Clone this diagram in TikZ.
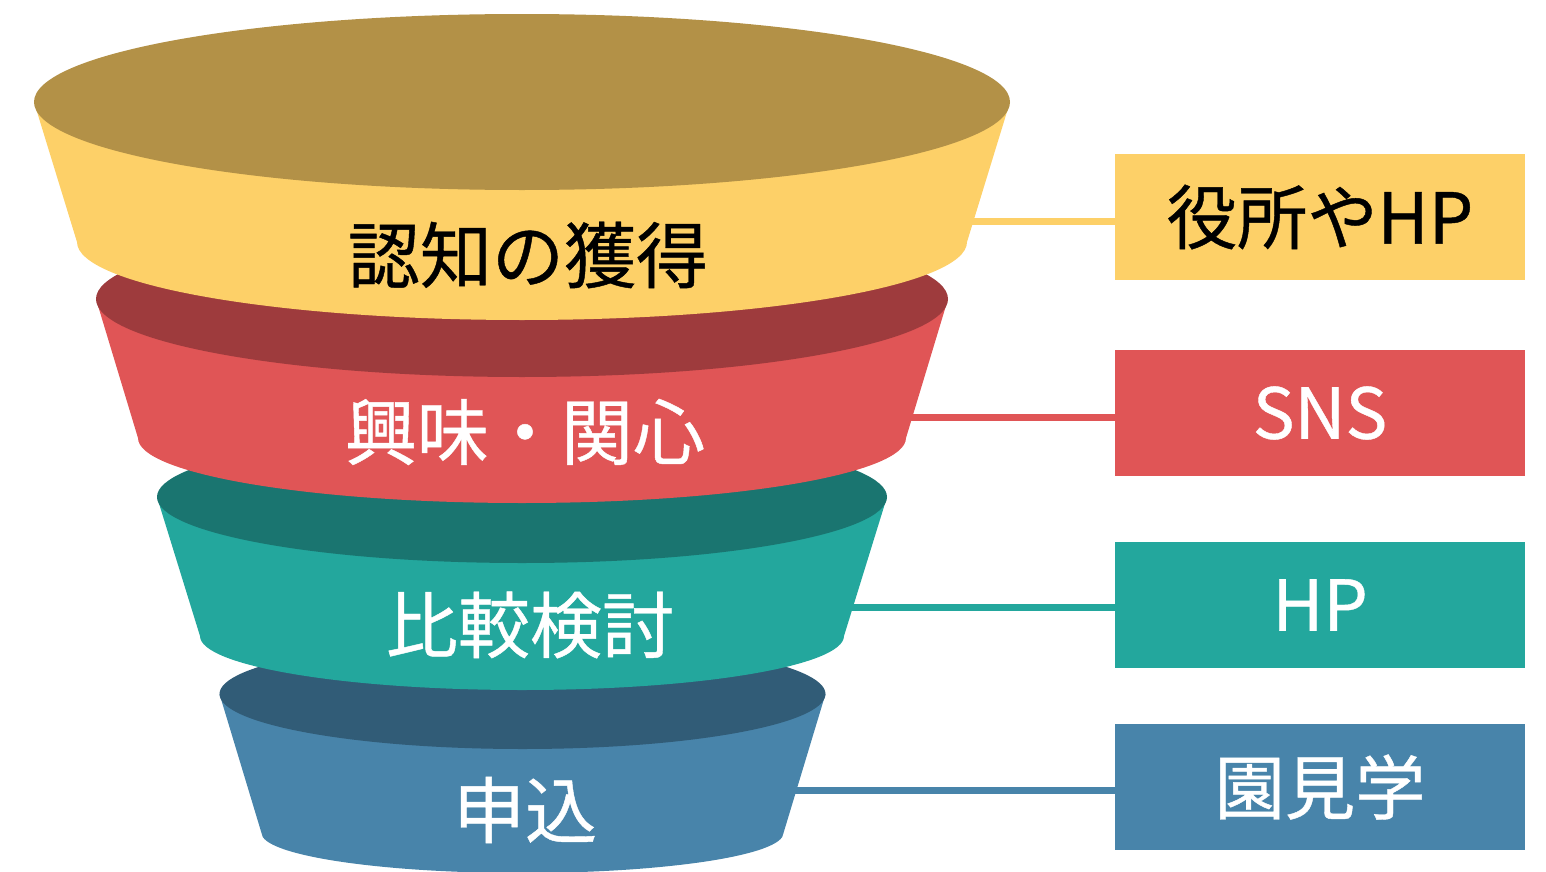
\documentclass[tikz,border=0pt]{standalone}
\usepackage{fontspec}
\setmainfont{Noto Sans CJK JP}[FakeBold=0.6]
\definecolor{yelbody}{HTML}{FDD068}
\definecolor{yeltop}{HTML}{B39147}
\definecolor{redbody}{HTML}{E05556}
\definecolor{redtop}{HTML}{9E3B3D}
\definecolor{tealbody}{HTML}{23A79D}
\definecolor{tealtop}{HTML}{1A7570}
\definecolor{bluebody}{HTML}{4884AA}
\definecolor{bluetop}{HTML}{315C77}
\newcommand{\layer}[9]{%
  \fill[#8] (#1-#3,-#2) -- (#1-#6,-#5) arc[start angle=180,end angle=360,x radius=#6,y radius=#7] -- (#1+#3,-#2) -- cycle;
  \fill[#9] (#1,-#2) ellipse [x radius=#3,y radius=#4];}
\begin{document}
\begin{tikzpicture}[x=0.02cm,y=0.02cm,
    stagetext/.style={font=\fontsize{41}{41}\selectfont},
    srcbox/.style={minimum width=8.2cm,minimum height=2.52cm,inner sep=0pt,font=\fontsize{40}{40}\selectfont},
    link/.style={line width=0.14cm}]
  \useasboundingbox (0,0) rectangle (1546,-872);
  \node[srcbox,fill=yelbody] (b1) at (1320,-217) {役所やHP};
  \node[srcbox,fill=redbody,text=white] (b2) at (1320,-413) {SNS};
  \node[srcbox,fill=tealbody,text=white] (b3) at (1320,-605) {HP};
  \node[srcbox,fill=bluebody,text=white] (b4) at (1320,-787) {園見学};
  \coordinate (c1) at (940,-221);
  \coordinate (c2) at (880,-417);
  \coordinate (c3) at (820,-607);
  \coordinate (c4) at (760,-790);
  \draw[link,yelbody] (c1) -- (c1 -| b1.west);
  \draw[link,redbody] (c2) -- (c2 -| b2.west);
  \draw[link,tealbody] (c3) -- (c3 -| b3.west);
  \draw[link,bluebody] (c4) -- (c4 -| b4.west);
  \layer{522.5}{694}{303}{55}{833}{261}{40}{bluebody}{bluetop}
  \layer{522}{497}{365}{66}{636}{322}{54}{tealbody}{tealtop}
  \layer{522}{299}{426}{78}{438}{384}{65}{redbody}{redtop}
  \layer{522}{102}{488}{88}{242}{445}{78}{yelbody}{yeltop}
  \node[stagetext] (s1) at (528,-255) {認知の獲得};
  \node[stagetext,text=white] (s2) at (525,-432) {興味・関心};
  \node[stagetext,text=white] (s3) at (530,-625) {比較検討};
  \node[stagetext,text=white] (s4) at (525,-810) {申込};
\end{tikzpicture}
\end{document}
